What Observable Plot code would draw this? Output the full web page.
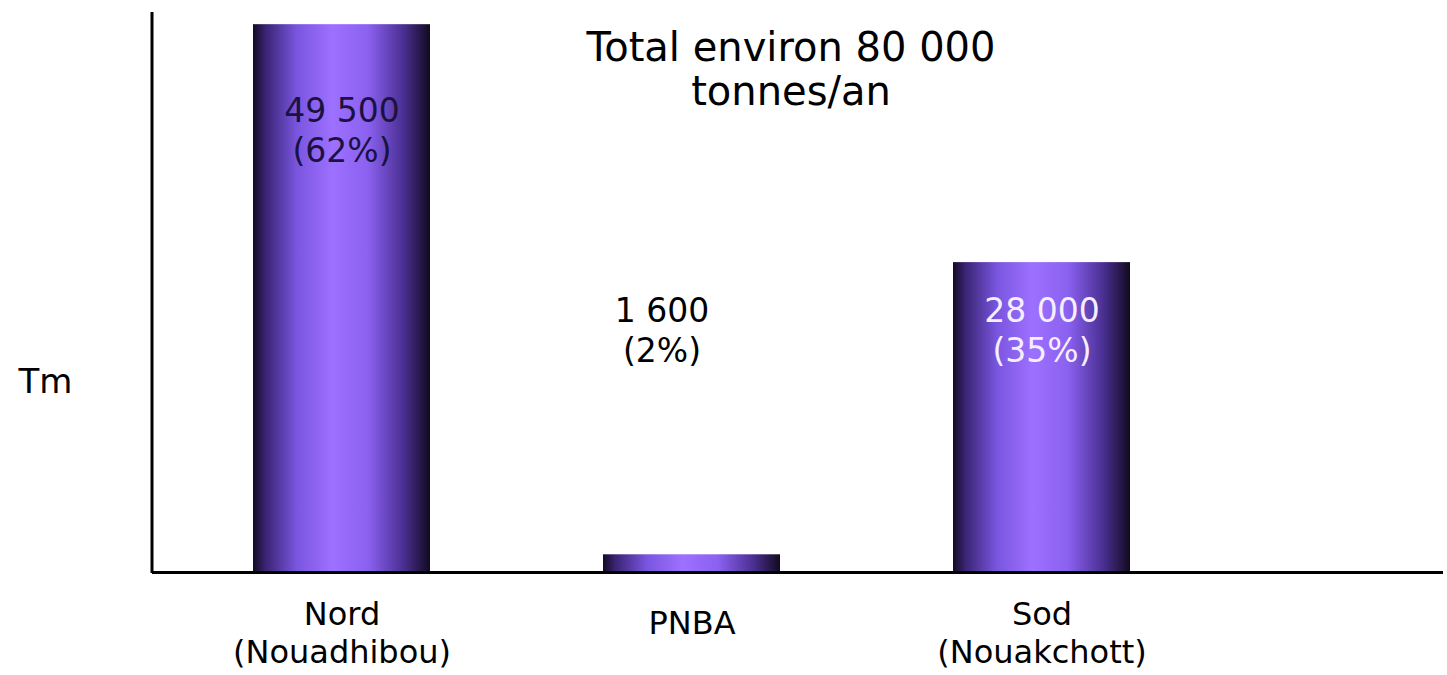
<!DOCTYPE html>
<html>
<head>
<meta charset="utf-8">
<script src="https://cdn.jsdelivr.net/npm/d3@7"></script>
<script src="https://cdn.jsdelivr.net/npm/@observablehq/plot@0.6"></script>
<style>
  html, body { margin: 0; padding: 0; background: #fff; }
  #chart svg { display: block; }
</style>
</head>
<body>
<div id="chart"></div>
<script>
const categories = ["Nord\n(Nouadhibou)", "PNBA", "Sod\n(Nouakchott)"];
const values = [49500, 1600, 28000];
const valueLabels = ["49 500", "1 600", "28 000"];
const shareLabels = ["(62%)", "(2%)", "(35%)"];
const labelColors = ["#1b1240", "#000000", "#f4eeff"];
const titleLines = ["Total environ 80 000", "tonnes/an"];
const yLabel = "Tm";

const data = categories.map((c, i) => ({
  cat: c, value: values[i], label: valueLabels[i] + "\n" + shareLabels[i], color: labelColors[i]
}));

const font = "DejaVu Sans, Verdana, sans-serif";

const defsMark = () => {
  const defs = d3.create("svg:defs");
  const g = defs.append("linearGradient").attr("id", "barGrad").attr("x1", "0").attr("x2", "1").attr("y1", "0").attr("y2", "0");
  [[0, "#140a24"], [0.07, "#3a2474"], [0.25, "#7a56e0"], [0.45, "#9e70ff"], [0.65, "#8a61f0"], [0.85, "#4a2f92"], [1, "#120a20"]]
    .forEach(([o, c]) => g.append("stop").attr("offset", o).attr("stop-color", c));
  return defs.node();
};

const leftAxis = (index, scales, values, dims) => {
  return d3.create("svg:line")
    .attr("x1", dims.marginLeft).attr("x2", dims.marginLeft)
    .attr("y1", dims.marginTop).attr("y2", dims.height - dims.marginBottom + 1)
    .attr("stroke", "#000").attr("stroke-width", 3).node();
};

const chart = Plot.plot({
  width: 1447,
  height: 675,
  marginLeft: 152,
  marginRight: 4,
  marginTop: 12,
  marginBottom: 103,
  style: { fontFamily: font, background: "#fff" },
  x: { domain: categories, range: [152, 1232], paddingInner: 0.493, paddingOuter: 0.285, axis: null },
  y: { domain: [0, 50600], axis: null },
  marks: [
    defsMark,
    Plot.barY(data, { x: "cat", y: "value", fill: "url(#barGrad)" }),
    Plot.ruleY([0], { stroke: "#000", strokeWidth: 3 }),
    leftAxis,
    Plot.text(data.filter((d, i) => i === 0), {
      x: "cat", text: "label", fill: "color", frameAnchor: "top", lineAnchor: "top",
      dy: 81, fontSize: 33, lineHeight: 1.21
    }),
    Plot.text(data.filter((d, i) => i === 1), {
      x: "cat", text: "label", fill: "color", frameAnchor: "top", lineAnchor: "top",
      dy: 281, dx: -30, fontSize: 33, lineHeight: 1.21
    }),
    Plot.text(data.filter((d, i) => i === 2), {
      x: "cat", text: "label", fill: "color", frameAnchor: "top", lineAnchor: "top",
      dy: 281, fontSize: 33, lineHeight: 1.21
    }),
    Plot.text(data.filter((d, i) => i !== 1), {
      x: "cat", text: "cat", frameAnchor: "bottom", lineAnchor: "middle",
      dy: 59, fontSize: 32, lineHeight: 1.2, fill: "#000"
    }),
    Plot.text(data.filter((d, i) => i === 1), {
      x: "cat", text: "cat", frameAnchor: "bottom", lineAnchor: "middle",
      dy: 51, fontSize: 32, fill: "#000"
    }),
    Plot.text([titleLines.join("\n")], {
      frameAnchor: "top", lineAnchor: "top", dy: 17, dx: -7, fontSize: 40, lineHeight: 1.1, fill: "#000"
    }),
    Plot.text([yLabel], {
      frameAnchor: "left", textAnchor: "start", dx: -134, dy: 90, fontSize: 34, fill: "#000"
    })
  ]
});

document.getElementById("chart").appendChild(chart);
</script>
</body>
</html>
